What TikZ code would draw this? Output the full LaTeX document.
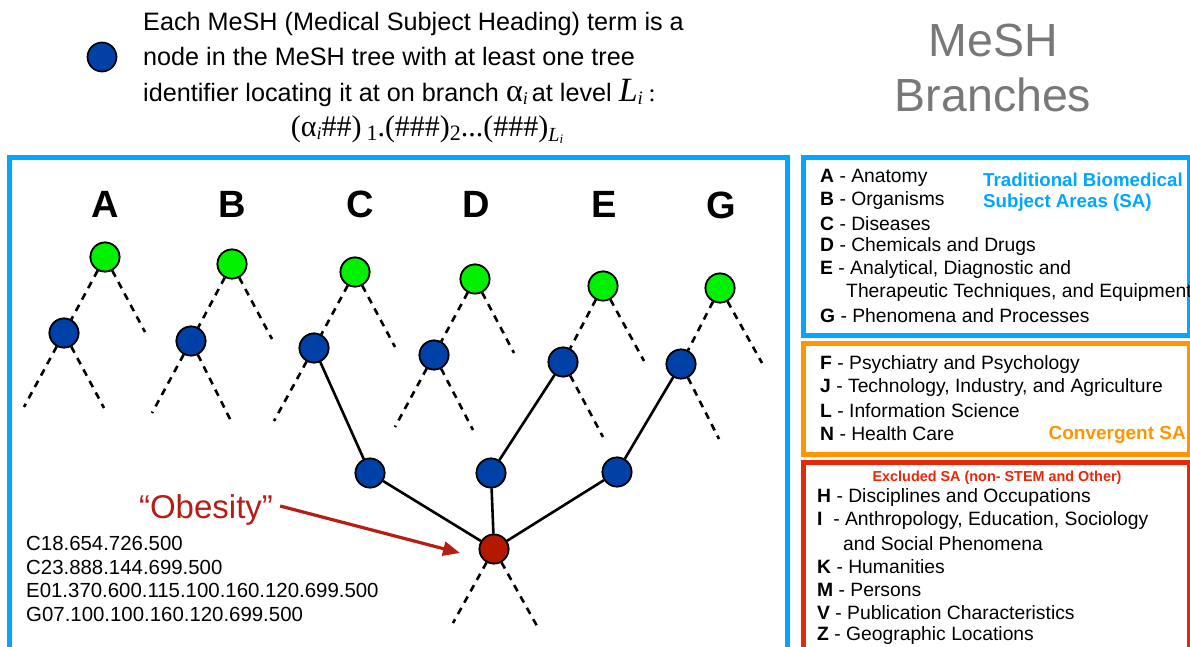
\documentclass[tikz,border=0pt]{standalone}
\usepackage{fontspec}
\setmainfont{Liberation Sans}
\newfontfamily\tms{Liberation Serif}
\usetikzlibrary{arrows.meta}
\definecolor{bluebox}{RGB}{0,166,255}
\definecolor{orangebox}{RGB}{255,150,0}
\definecolor{redbox}{RGB}{228,40,10}
\definecolor{mgreen}{RGB}{0,240,0}
\definecolor{mblue}{RGB}{0,65,168}
\definecolor{mred}{RGB}{180,25,0}
\definecolor{obred}{RGB}{180,30,20}
\definecolor{titlegray}{RGB}{120,120,120}
\newcommand\fs[1]{\fontsize{#1}{#1}\selectfont}
\begin{document}
\begin{tikzpicture}[x=1pt,y=-1pt,
  nd/.style={circle,draw=black,line width=1.7pt,minimum size=29pt,inner sep=0pt},
  gn/.style={nd,fill=mgreen},
  bn/.style={nd,fill=mblue},
  rn/.style={nd,fill=mred},
  dl/.style={line width=2.6pt,dash pattern=on 7pt off 6pt},
  sl/.style={line width=2.6pt},
  brl/.style={font=\bfseries\fs{38}},
  hd/.style={anchor=west,inner sep=0pt,font=\fs{25.2}},
  cd/.style={anchor=west,inner sep=0pt,font=\fs{20.4}},
  it/.style={anchor=west,inner sep=0pt,font=\fs{19.3}},
  boxline/.style={line width=5pt}]
\useasboundingbox (0,0) rectangle (1190,647);
% boxes
\draw[boxline,bluebox] (9.5,700) -- (9.5,157.5) -- (787,157.5) -- (787,700);
\draw[boxline,bluebox] (803,157.5) rectangle (1189,335);
\draw[boxline,orangebox] (803,343) rectangle (1189,454);
\draw[boxline,redbox] (803,700) -- (803,462) -- (1189,462) -- (1189,700);
% header
\node[bn] (leg) at (102,57) {};
\node[hd] (h1) at (143,24) {Each MeSH (Medical Subject Heading) term is a};
\node[hd] (h2) at (143,56) {node in the MeSH tree with at least one tree};
\node[hd] (h3) at (143,93) {identifier locating it at on branch {\tms\fs{32}α\raisebox{-3pt}{\fs{18}\itshape i}}\,at level {\tms\fs{34}\itshape L\raisebox{-3pt}{\fs{19}i}\upshape\,\fs{25}:}};
\node[inner sep=0pt] (h4) at (427,130) {\tms\fs{30}(α\raisebox{-3pt}{\fs{18}\itshape i}\#\#)\,\raisebox{-4pt}{\fs{22}1}.(\#\#\#)\raisebox{-4pt}{\fs{22}2}...(\#\#\#)\raisebox{-5pt}{\fs{20}\itshape L\raisebox{-2pt}{\fs{13}i}}};
% title
\node[font=\fs{46.5},text=titlegray,inner sep=0pt] (t1) at (993,40) {MeSH};
\node[font=\fs{46.5},text=titlegray,inner sep=0pt] (t2) at (993,95) {Branches};
% branch letters
\node[brl] (lA) at (105,204) {A};
\node[brl] (lB) at (232,204) {B};
\node[brl] (lC) at (360,204) {C};
\node[brl] (lD) at (476,204) {D};
\node[brl] (lE) at (604,204) {E};
\node[brl] (lG) at (721,205) {G};
% green roots
\node[gn] (gA) at (105,257) {};
\node[gn] (gB) at (232,264) {};
\node[gn] (gC) at (355,272) {};
\node[gn] (gD) at (475,279) {};
\node[gn] (gE) at (603,286) {};
\node[gn] (gG) at (720,288) {};
% level-1 blue
\node[bn] (bA) at (64,333) {};
\node[bn] (bB) at (191,341) {};
\node[bn] (bC) at (314,348) {};
\node[bn] (bD) at (434,355) {};
\node[bn] (bE) at (563,362) {};
\node[bn] (bG) at (681,364) {};
% level-2 blue
\node[bn] (m1) at (370,473) {};
\node[bn] (m2) at (491,473) {};
\node[bn] (m3) at (617,472) {};
% red
\node[rn] (rd) at (494,549) {};
% free ends
\coordinate (eA) at (145,332);
\coordinate (eB) at (272,339);
\coordinate (eC) at (395,347);
\coordinate (eD) at (514,353);
\coordinate (eE) at (644,361);
\coordinate (eG) at (762,363);
\coordinate (aL) at (24,407);
\coordinate (aR) at (104,408);
\coordinate (bL) at (152,413);
\coordinate (bR) at (230,419);
\coordinate (cL) at (274,421);
\coordinate (dL) at (395,427);
\coordinate (dR) at (473,430);
\coordinate (eR) at (603,437);
\coordinate (gR) at (719,439);
\coordinate (rL) at (453,623);
\coordinate (rR) at (537,626);
% dashed
\foreach \g/\b/\e in {gA/bA/eA,gB/bB/eB,gC/bC/eC,gD/bD/eD,gE/bE/eE,gG/bG/eG}{
  \draw[dl] (\g) -- (\b);
  \draw[dl] (\g) -- (\e);
}
\draw[dl] (bA) -- (aL); \draw[dl] (bA) -- (aR);
\draw[dl] (bB) -- (bL); \draw[dl] (bB) -- (bR);
\draw[dl] (bC) -- (cL);
\draw[dl] (bD) -- (dL); \draw[dl] (bD) -- (dR);
\draw[dl] (bE) -- (eR);
\draw[dl] (bG) -- (gR);
\draw[dl] (rd) -- (rL); \draw[dl] (rd) -- (rR);
% solid
\draw[sl] (bC) -- (m1);
\draw[sl] (bE) -- (m2);
\draw[sl] (bG) -- (m3);
\draw[sl] (m1) -- (rd);
\draw[sl] (m2) -- (rd);
\draw[sl] (m3) -- (rd);
% redraw nodes on top
\foreach \n/\s in {gA/gn,gB/gn,gC/gn,gD/gn,gE/gn,gG/gn,bA/bn,bB/bn,bC/bn,bD/bn,bE/bn,bG/bn,m1/bn,m2/bn,m3/bn,rd/rn}{
  \node[\s] at (\n) {};
}
% obesity
\node[font=\fs{33},text=obred,inner sep=0pt] (ob) at (206,510) {“Obesity”};
\coordinate (obtip) at (460,553);
\draw[line width=3.2pt,obred,-{Triangle[length=17pt,width=14pt]}] ([xshift=7pt,yshift=4pt]ob.east) -- (obtip);
\node[cd] (c1) at (26,543) {C18.654.726.500};
\node[cd] (c2) at (26,567) {C23.888.144.699.500};
\node[cd] (c3) at (26,590) {E01.370.600.115.100.160.120.699.500};
\node[cd] (c4) at (26,614) {G07.100.100.160.120.699.500};
% blue list
\node[it] (iA) at (820,178) {\textbf{A} - Anatomy};
\node[it] (iB) at (820,201) {\textbf{B} - Organisms};
\node[it] (iC) at (820,224) {\textbf{C} - Diseases};
\node[it] (iD) at (820,247) {\textbf{D} - Chemicals and Drugs};
\node[it] (iE) at (820,270) {\textbf{E} - Analytical, Diagnostic and};
\node[it] (iE2) at (846,293) {Therapeutic Techniques, and Equipment};
\node[it] (iG) at (820,316) {\textbf{G} - Phenomena and Processes};
\node[anchor=west,inner sep=0pt,font=\bfseries\fs{18.7},text=bluebox,align=left] (tb1) at (983,180) {Traditional Biomedical};
\node[anchor=west,inner sep=0pt,font=\bfseries\fs{18.7},text=bluebox,align=left] (tb2) at (983,203) {Subject Areas (SA)};
% orange list
\node[it] (iF) at (820,365) {\textbf{F} - Psychiatry and Psychology};
\node[it] (iJ) at (820,388) {\textbf{J} - Technology, Industry, and Agriculture};
\node[it] (iL) at (820,411) {\textbf{L} - Information Science};
\node[it] (iN) at (820,434) {\textbf{N} - Health Care};
\node[anchor=east,inner sep=0pt,font=\bfseries\fs{19},text=orangebox] (cv) at (1186,435) {Convergent SA};
% red list
\node[inner sep=0pt,font=\bfseries\fs{14.4},text=redbox] (ex) at (997,478) {Excluded SA (non- STEM and Other)};
\node[it] (iH) at (817,498) {\textbf{H} - Disciplines and Occupations};
\node[it] (iI) at (817,521) {\textbf{I}\ \ - Anthropology, Education, Sociology};
\node[it] (iI2) at (843,544) {and Social Phenomena};
\node[it] (iK) at (817,567) {\textbf{K} - Humanities};
\node[it] (iM) at (817,590) {\textbf{M} - Persons};
\node[it] (iV) at (817,613) {\textbf{V} - Publication Characteristics};
\node[it] (iZ) at (817,636) {\textbf{Z} - Geographic Locations};
\end{tikzpicture}
\end{document}
